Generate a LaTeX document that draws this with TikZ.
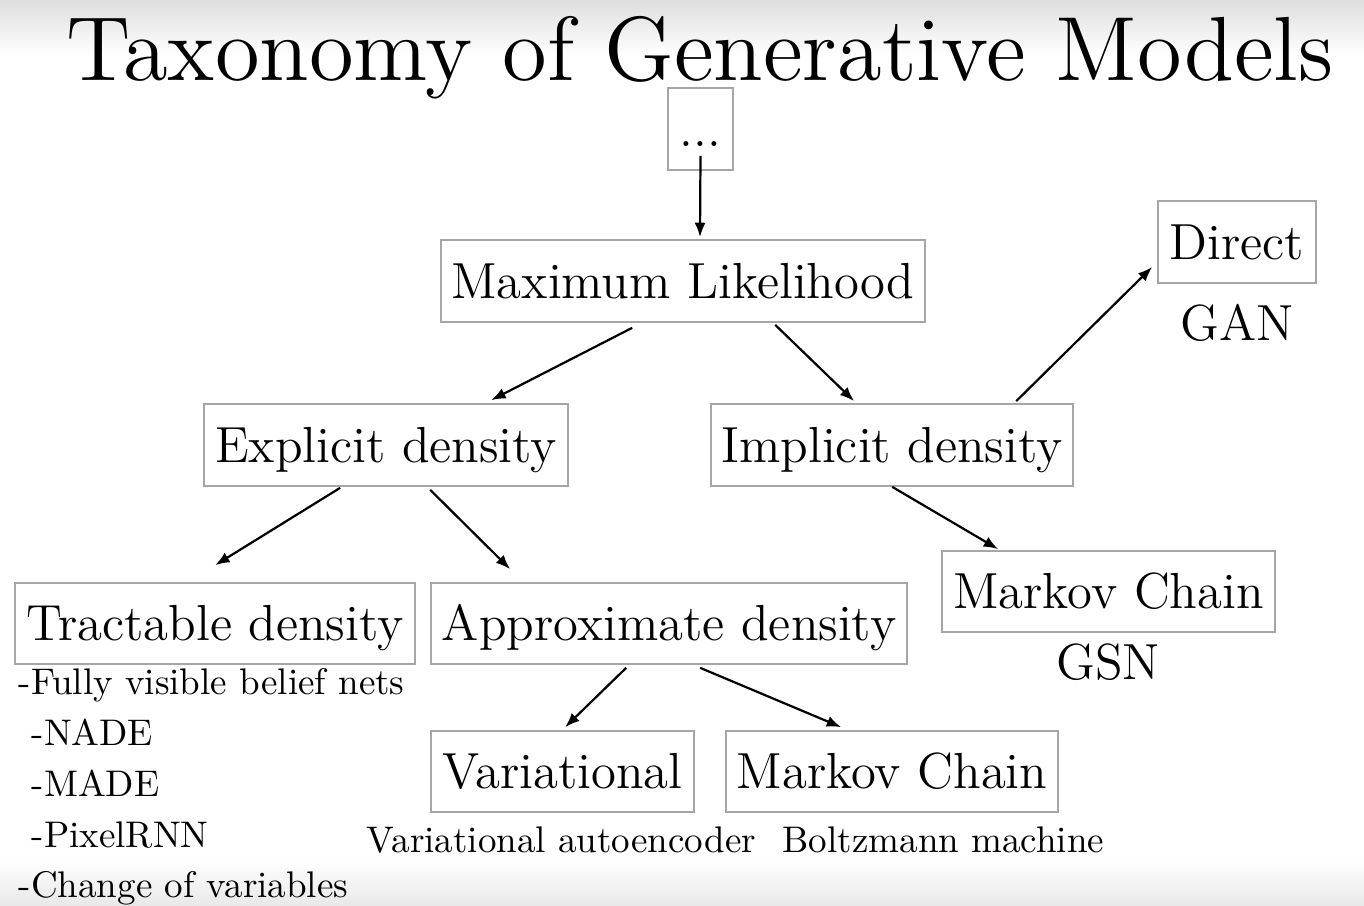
\documentclass[tikz,border=0pt]{standalone}
\usetikzlibrary{arrows.meta}
\begin{document}
\begin{tikzpicture}[x=0.27pt,y=-0.27pt,
  box/.style={draw=black!35, line width=0.45pt, inner sep=0pt,
    font=\fontsize{13.7}{16}\selectfont, text height=9.36pt, text depth=0pt,
    minimum height={82*0.27pt}},
  biglabel/.style={inner sep=0pt, anchor=base, font=\fontsize{13.7}{16}\selectfont},
  smalllabel/.style={inner sep=0pt, font=\fontsize{10}{12}\selectfont},
  arr/.style={-{Latex[length=3.9pt,width=3pt]}, line width=0.6pt}]
\useasboundingbox (0,0) rectangle (1364,906);
\fill[white] (0,0) rectangle (1364,906);
\shade[top color=black!13, bottom color=white] (0,0) rectangle (1364,55);
\shade[top color=white, bottom color=black!9] (0,860) rectangle (1364,906);

\node[inner sep=0pt, anchor=base, scale=2.05, font=\fontsize{12}{14}\selectfont] (title) at (700,80) {Taxonomy of Generative Models};

\node[box, minimum width={65*0.27pt}] (dots) at (700.5,129) {...};
\node[box, minimum width={484*0.27pt}] (ml) at (683,281) {Maximum Likelihood};
\node[box, minimum width={364*0.27pt}] (expl) at (386,445) {Explicit density};
\node[box, minimum width={362*0.27pt}] (impl) at (892,445) {Implicit density};
\node[box, minimum width={158*0.27pt}] (direct) at (1237,242) {Direct};
\node[biglabel] (gan) at (1237,340) {GAN};
\node[box, minimum width={400*0.27pt}, minimum height={81*0.27pt}] (tract) at (215,623.5) {Tractable density};
\node[box, minimum width={476*0.27pt}, minimum height={81*0.27pt}] (approx) at (669,623.5) {Approximate density};
\node[box, minimum width={333*0.27pt}, minimum height={81*0.27pt}] (mcr) at (1108.5,591.5) {Markov Chain};
\node[biglabel] (gsn) at (1108,679) {GSN};
\node[box, minimum width={263*0.27pt}, minimum height={81*0.27pt}] (vari) at (562.5,771.5) {Variational};
\node[box, minimum width={332*0.27pt}, minimum height={81*0.27pt}] (mcb) at (892,771.5) {Markov Chain};

\node[smalllabel, anchor=base] (vae) at (561.5,852) {Variational autoencoder};
\node[smalllabel, anchor=base] (boltz) at (943.5,852) {Boltzmann machine};

\node[smalllabel, anchor=base west] (l1) at (18,694) {-Fully visible belief nets};
\node[smalllabel, anchor=base west] (l2) at (31,745) {-NADE};
\node[smalllabel, anchor=base west] (l3) at (31,796) {-MADE};
\node[smalllabel, anchor=base west] (l4) at (31,847) {-PixelRNN};
\node[smalllabel, anchor=base west] (l5) at (18,897) {-Change of variables};

\draw[arr] ([shift={(0,-15)}]dots.south) -- ([shift={(17,-2)}]ml.north);
\draw[arr] ([shift={(192,5)}]ml.south west) -- ([shift={(288,-3)}]expl.north west);
\draw[arr] ([shift={(335,2)}]ml.south west) -- ([shift={(144,-2)}]impl.north west);
\draw[arr] ([shift={(306,-2)}]impl.north west) -- ([shift={(-5,25)}]direct.west);
\draw[arr] ([shift={(137,1)}]expl.south west) -- ([shift={(201,-17)}]tract.north west);
\draw[arr] ([shift={(227,3)}]expl.south west) -- ([shift={(80,-13)}]approx.north west);
\draw[arr] ([shift={(182,0)}]impl.south west) -- ([shift={(57,-1)}]mcr.north west);
\draw[arr] ([shift={(196,3)}]approx.south west) -- ([shift={(135,-3)}]vari.north west);
\draw[arr] ([shift={(270,3)}]approx.south west) -- ([shift={(116,-3)}]mcb.north west);
\end{tikzpicture}
\end{document}
